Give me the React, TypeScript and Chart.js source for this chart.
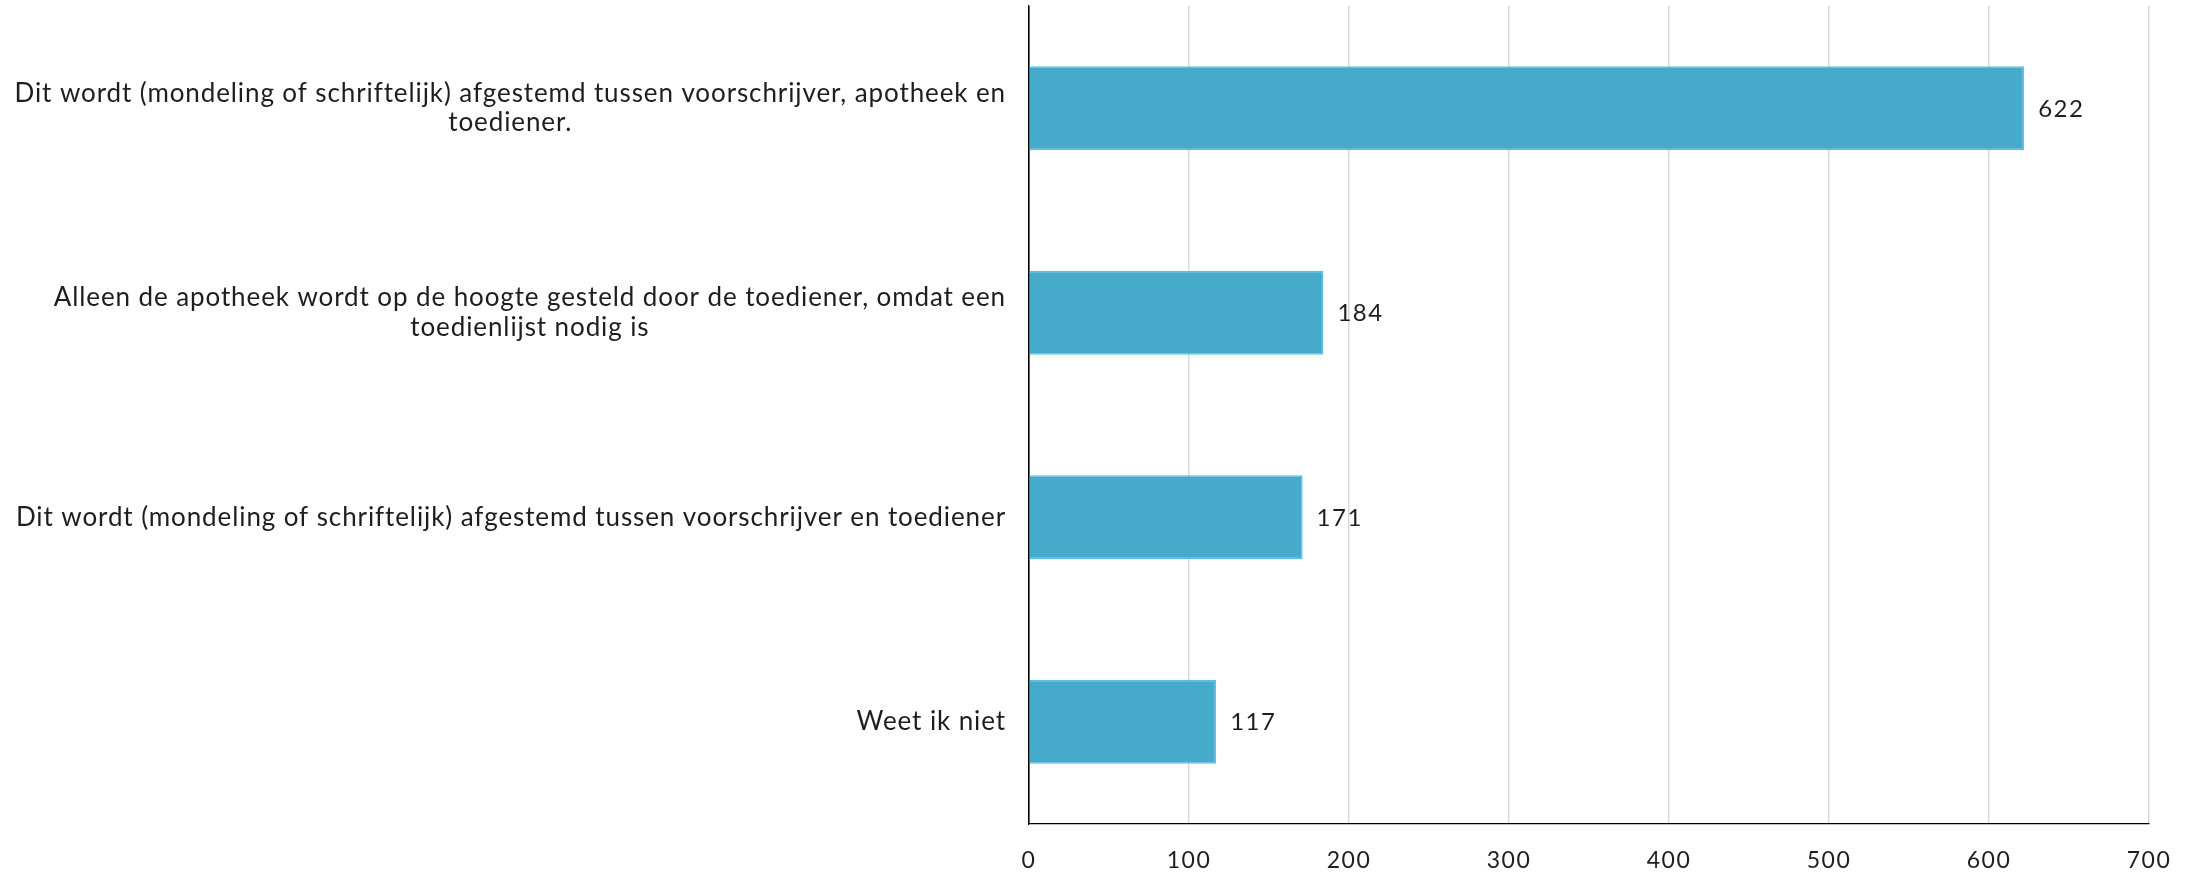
import React, { useEffect, useRef } from "react";
import { Chart, registerables } from "chart.js";

Chart.register(...registerables);

const categories: string[][] = [
  ["Dit wordt (mondeling of schriftelijk) afgestemd tussen voorschrijver, apotheek en", "toediener."],
  ["Alleen de apotheek wordt op de hoogte gesteld door de toediener, omdat een", "toedienlijst nodig is"],
  ["Dit wordt (mondeling of schriftelijk) afgestemd tussen voorschrijver en toediener"],
  ["Weet ik niet"],
];
const values: number[] = [622, 184, 171, 117];
const xTicks: number[] = [0, 100, 200, 300, 400, 500, 600, 700];

const FONT = "Lato, 'Open Sans', sans-serif";
const TEXT = "#1e1e1e";

const spacingPlugin = {
  id: "spacing",
  beforeDraw(chart: any) {
    (chart.ctx as any).letterSpacing = "1.5px";
  },
};

const categoryLabelPlugin = {
  id: "categoryLabels",
  afterDraw(chart: any) {
    const { ctx, chartArea, scales } = chart;
    const y = scales.y;
    ctx.save();
    ctx.letterSpacing = "0.9px";
    ctx.font = `26px ${FONT}`;
    ctx.fillStyle = TEXT;
    ctx.textAlign = "center";
    ctx.textBaseline = "middle";
    const lh = 29.5;
    categories.forEach((lines, i) => {
      const cy = y.getPixelForValue(i);
      const w = Math.max(...lines.map((l) => ctx.measureText(l).width));
      const right = chartArea.left - 23;
      const cx = right - w / 2;
      const startY = cy - ((lines.length - 1) * lh) / 2;
      lines.forEach((l, j) => ctx.fillText(l, cx, startY + j * lh));
    });
    ctx.restore();
  },
};

const valueLabelPlugin = {
  id: "valueLabels",
  afterDatasetsDraw(chart: any) {
    const { ctx } = chart;
    const meta = chart.getDatasetMeta(0);
    ctx.save();
    ctx.letterSpacing = "1.5px";
    ctx.font = `24px ${FONT}`;
    ctx.fillStyle = TEXT;
    ctx.textAlign = "left";
    ctx.textBaseline = "middle";
    meta.data.forEach((bar: any, i: number) => {
      ctx.fillText(String(values[i]), bar.x + 14, bar.y + 1);
    });
    ctx.restore();
  },
};

export default function App() {
  const ref = useRef<HTMLCanvasElement>(null);
  useEffect(() => {
    document.body.style.margin = "0";
    const chart = new Chart(ref.current!, {
      type: "bar",
      data: {
        labels: categories.map((c) => c.join(" ")),
        datasets: [
          {
            data: values,
            backgroundColor: "#46aacb",
            borderColor: "#58c0e2",
            borderWidth: 1.5,
            barPercentage: 0.41,
            categoryPercentage: 1,
          },
        ],
      },
      options: {
        indexAxis: "y",
        responsive: false,
        animation: false,
        devicePixelRatio: 1,
        layout: { padding: { top: 6, right: 49, left: 0, bottom: 0 } },
        plugins: { legend: { display: false }, tooltip: { enabled: false } },
        scales: {
          x: {
            min: 0,
            max: 700,
            afterBuildTicks: (s: any) => {
              s.ticks = xTicks.map((v) => ({ value: v }));
            },
            afterFit: (s: any) => {
              s.height = 48;
            },
            grid: {
              color: (c: any) => (c.tick && c.tick.value === 0 ? "#000000" : "#d9d9d9"),
              lineWidth: 1.5,
              drawTicks: false,
            },
            border: { display: true, color: "#000000", width: 1.2 },
            ticks: {
              padding: 23,
              color: TEXT,
              font: { family: FONT, size: 23 },
            },
          },
          y: {
            afterFit: (s: any) => {
              s.width = 1029;
            },
            grid: { display: false, drawTicks: false },
            border: { display: true, color: "#000000", width: 1.2 },
            ticks: { display: false },
          },
        },
      },
      plugins: [spacingPlugin, categoryLabelPlugin, valueLabelPlugin],
    });
    return () => chart.destroy();
  }, []);
  return (
    <div style={{ width: 2198, height: 872, background: "#ffffff" }}>
      <canvas ref={ref} width={2198} height={872} style={{ display: "block" }} />
    </div>
  );
}
